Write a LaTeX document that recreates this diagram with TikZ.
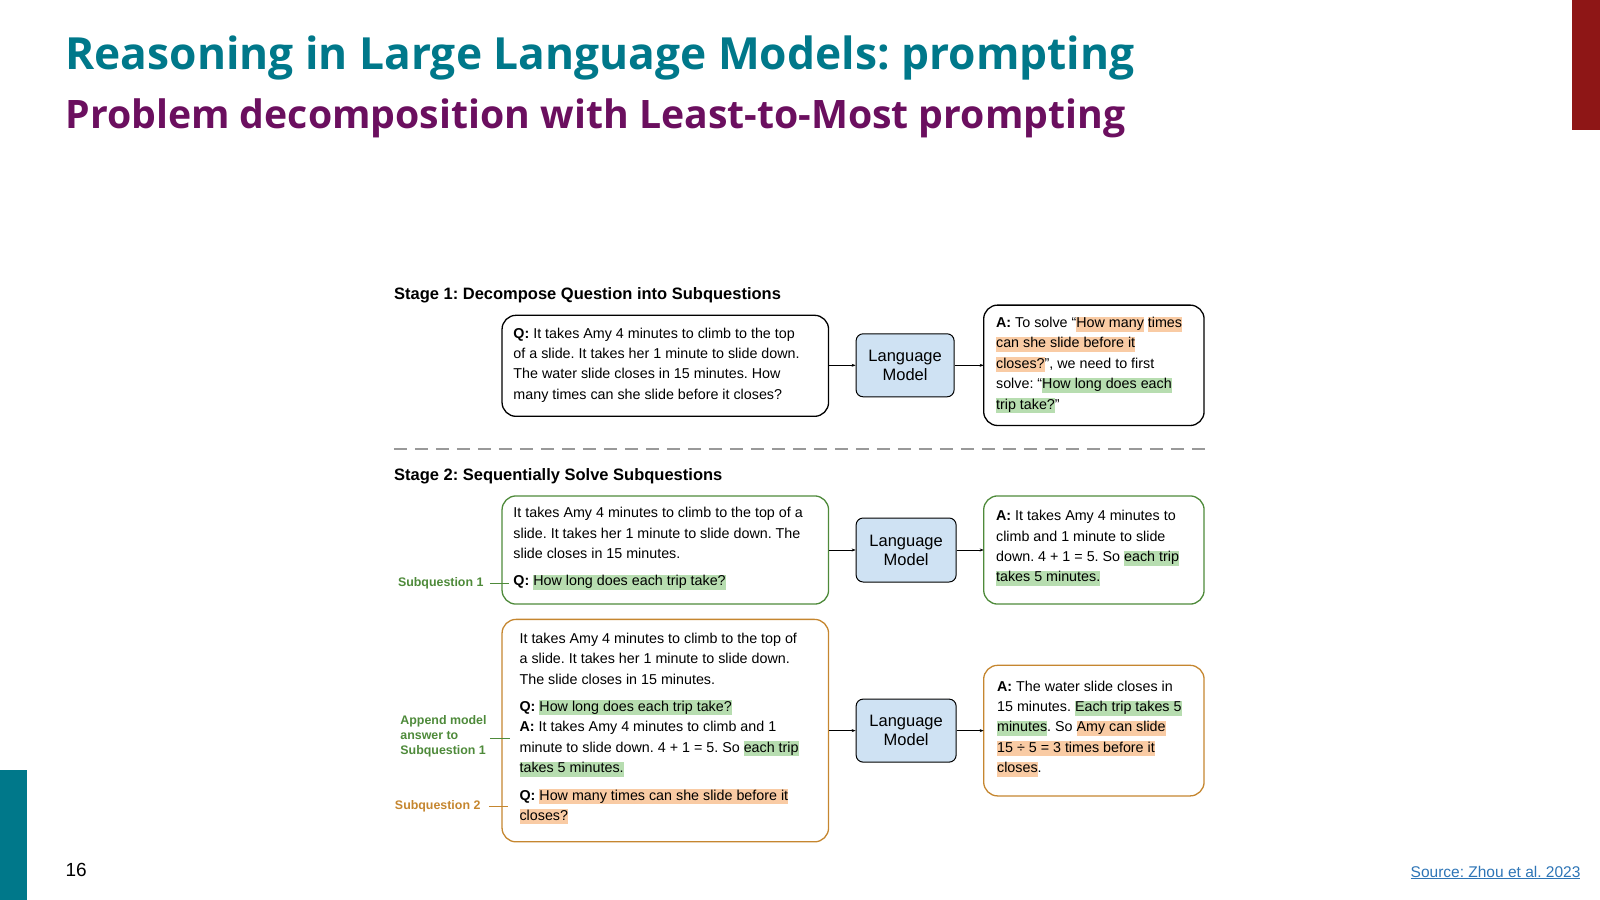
\documentclass[tikz,border=0pt]{standalone}
\usepackage{fontspec}
\setmainfont{Liberation Sans}
\newfontfamily\titlefont{Open Sans}
\usetikzlibrary{positioning,arrows.meta}
\definecolor{tealc}{HTML}{00788A}
\definecolor{purp}{HTML}{6B0F5F}
\definecolor{redbar}{HTML}{8E1616}
\definecolor{hgreen}{HTML}{B7DDB0}
\definecolor{horange}{HTML}{F9CBA4}
\definecolor{lmblue}{HTML}{CFE2F3}
\definecolor{grnline}{HTML}{4E8A3A}
\definecolor{orgline}{HTML}{C5862F}
\definecolor{linkblue}{HTML}{2E75B6}
\newcommand{\hlstrut}{\rule[-4pt]{0pt}{15pt}}
\newcommand{\hgr}[1]{{\setlength\fboxsep{0pt}\colorbox{hgreen}{\hlstrut #1}}}
\newcommand{\hor}[1]{{\setlength\fboxsep{0pt}\colorbox{horange}{\hlstrut #1}}}
\frenchspacing
\begin{document}
\begin{tikzpicture}[x=1.0204pt,y=-1.0204pt,>=stealth,
  box/.style={draw, rounded corners=14pt, line width=1.3pt, inner sep=0pt},
  lm/.style={draw, fill=lmblue, rounded corners=7pt, line width=1pt, align=center, font=\fontsize{16.5}{19}\selectfont},
  txt/.style={anchor=north west, align=left, inner sep=0pt, font=\fontsize{14.3}{20.4}\selectfont},
  side/.style={anchor=east, align=left, inner sep=0pt, font=\fontsize{12.4}{15}\selectfont\bfseries},
  link/.style={-{Stealth[length=4pt,width=3pt]}, line width=0.6pt},
]
\useasboundingbox (0,0) rectangle (1568,882);
% frame of the slide
\fill[redbar] (1541,0) rectangle (1568,127);
\fill[tealc] (0,755) rectangle (26,882);
\node[anchor=west, inner sep=0pt, text=tealc, font=\titlefont\fontsize{44.3}{50}\selectfont\bfseries] (title) at (64,57) {Reasoning in Large Language Models: prompting};
\node[anchor=west, inner sep=0pt, text=purp, font=\titlefont\fontsize{39.2}{44}\selectfont\bfseries] (subtitle) at (64,116) {Problem decomposition with Least-to-Most prompting};
\node[anchor=west, inner sep=0pt, font=\fontsize{19}{22}\selectfont] (page) at (64,853) {16};
\node[anchor=east, inner sep=0pt, text=linkblue, font=\fontsize{15.5}{18}\selectfont] (source) at (1549,855) {\underline{Source: Zhou et al. 2023}};

% stage 1
\node[anchor=west, inner sep=0pt, font=\fontsize{16.5}{18}\selectfont\bfseries] (s1) at (386,289) {Stage 1: Decompose Question into Subquestions};
\draw[box] (492,309) rectangle (812,408);
\coordinate (q1r) at (812,358);
\node[txt] (q1) at (503,321) {\textbf{Q:} It takes Amy 4 minutes to climb to the top\\of a slide. It takes her 1 minute to slide down.\\The water slide closes in 15 minutes. How\\many times can she slide before it closes?};
\node[lm, minimum width=98pt, minimum height=63pt] (lm1) at (887,358) {Language\\Model};
\draw[box] (964,299) rectangle (1180,417);
\coordinate (a1l) at (964,358);
\node[txt] (a1) at (976,310) {\textbf{A:} To solve ``\hor{How many} \hor{times}\\\hor{can she slide before it}\\\hor{closes?}'', we need to first\\solve: ``\hgr{How long does each}\\\hgr{trip take?}''};
\draw[link] (q1r) -- (lm1);
\draw[link] (lm1) -- (a1l);

\draw[gray!80, line width=2.8pt, dash pattern=on 13pt off 8pt] (386,440) -- (1183,440);

% stage 2
\node[anchor=west, inner sep=0pt, font=\fontsize{16.5}{18}\selectfont\bfseries] (s2) at (386,467) {Stage 2: Sequentially Solve Subquestions};
\draw[box, grnline] (492,486) rectangle (812,592);
\coordinate (q2r) at (812,539);
\node[txt] (q2) at (503,497) {It takes Amy 4 minutes to climb to the top of a\\slide. It takes her 1 minute to slide down. The\\slide closes in 15 minutes.\\[7pt]\textbf{Q:} \hgr{How long does each trip take?}};
\node[lm, minimum width=100pt, minimum height=64pt] (lm2) at (888,539) {Language\\Model};
\draw[box, grnline] (964,486) rectangle (1180,592);
\coordinate (a2l) at (964,539);
\node[txt] (a2) at (976,500) {\textbf{A:} It takes Amy 4 minutes to\\climb and 1 minute to slide\\down. 4 + 1 = 5. So \hgr{each trip}\\\hgr{takes 5 minutes.}};
\draw[link] (q2r) -- (lm2);
\draw[link] (lm2) -- (a2l);

\draw[box, orgline] (492,607) rectangle (812,825);
\coordinate (q3r) at (812,716);
\node[txt] (q3) at (509,620) {It takes Amy 4 minutes to climb to the top of\\a slide. It takes her 1 minute to slide down.\\The slide closes in 15 minutes.\\[7pt]\textbf{Q:} \hgr{How long does each trip take?}\\\textbf{A:} It takes Amy 4 minutes to climb and 1\\minute to slide down. 4 + 1 = 5. So \hgr{each trip}\\\hgr{takes 5 minutes.}\\[7pt]\textbf{Q:} \hor{How many times can she slide before it}\\\hor{closes?}};
\node[lm, minimum width=100pt, minimum height=63pt] (lm3) at (888,716) {Language\\Model};
\draw[box, orgline] (964,652) rectangle (1180,780);
\coordinate (a3l) at (964,716);
\node[txt] (a3) at (977,667) {\textbf{A:} The water slide closes in\\15 minutes. \hgr{Each trip takes 5}\\\hgr{minutes}. So \hor{Amy can slide}\\\hor{15 ÷ 5 = 3 times before it}\\\hor{closes}.};
\draw[link] (q3r) -- (lm3);
\draw[link] (lm3) -- (a3l);

% side labels
\node[side, text=grnline] (sq1) at (474,572) {Subquestion 1};
\coordinate (sq1e) at (499,572);
\draw[grnline, line width=0.8pt] (sq1.east) ++(6,0) -- (sq1e);
\node[side, text=grnline] (app) at (477,722) {Append model\\answer to\\Subquestion 1};
\coordinate (appe) at (500,724);
\draw[grnline, line width=0.8pt] (480,724) -- (appe);
\node[side, text=orgline] (sq2) at (471,790) {Subquestion 2};
\coordinate (sq2e) at (498,790);
\draw[orgline, line width=0.8pt] (sq2.east) ++(8,0) -- (sq2e);
\end{tikzpicture}
\end{document}
